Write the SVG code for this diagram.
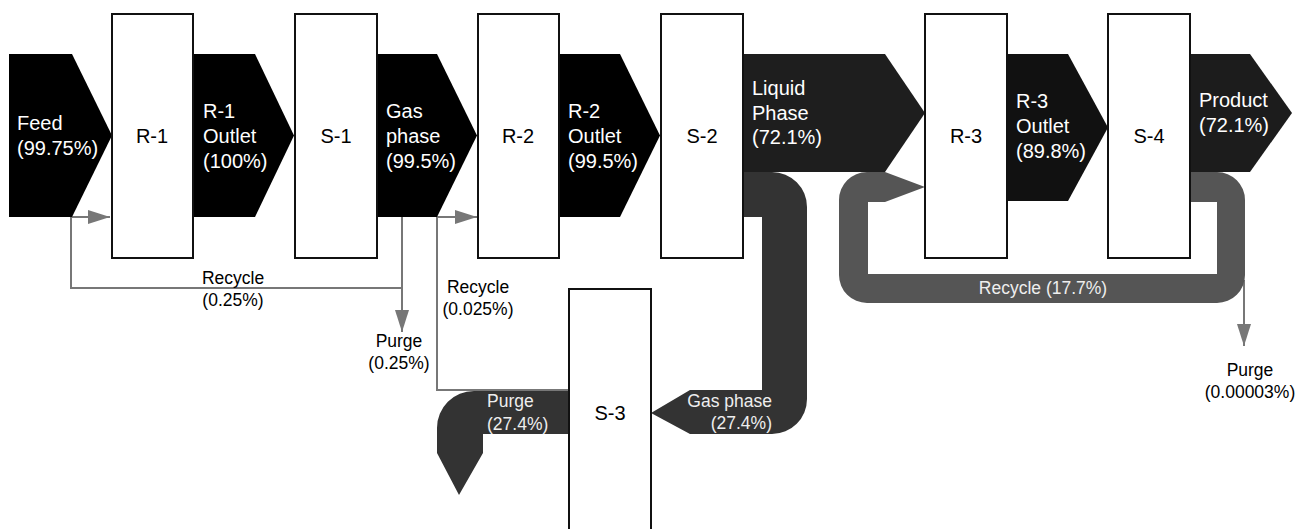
<svg xmlns="http://www.w3.org/2000/svg" width="1296" height="529" viewBox="0 0 1296 529">
<defs>
<style>
.box{fill:#fff;stroke:#111;stroke-width:2}
.lbl{font-family:"Liberation Sans",Arial,sans-serif;font-size:20px;fill:#000}
.wl{font-family:"Liberation Sans",Arial,sans-serif;font-size:20px;fill:#fff}
.sm{font-family:"Liberation Sans",Arial,sans-serif;font-size:17.5px;fill:#000}
.smw{font-family:"Liberation Sans",Arial,sans-serif;font-size:17.5px;fill:#eee}
.thin{fill:none;stroke:#777;stroke-width:2}
</style>
<marker id="ah" markerUnits="userSpaceOnUse" markerWidth="22" markerHeight="14" refX="22" refY="7" orient="auto">
<path d="M0,0 L22,7 L0,14 Z" fill="#777"/>
</marker>
</defs>
<rect width="1296" height="529" fill="#fff"/>
<g id="connectors">
<!-- thin recycle / purge lines -->
<path class="thin" d="M402,217 L402,288 L71,288 L71,217 L110,217" marker-end="url(#ah)"/>
<path class="thin" d="M402,288 L402,332" marker-end="url(#ah)"/>
<path class="thin" d="M569,390 L437,390 L437,217 L477,217" marker-end="url(#ah)"/>
<path class="thin" d="M1244,280 L1244,346" marker-end="url(#ah)"/>
<!-- main streams -->
<polygon points="9,54 72,54 112,135.5 72,217 9,217" fill="#000"/>
<polygon points="193,54 255,54 294,135.5 255,217 193,217" fill="#000"/>
<polygon points="377,54 437,54 477,135.5 437,217 377,217" fill="#000"/>
<polygon points="559,54 620,54 660,135.5 620,217 559,217" fill="#000"/>
<polygon points="743,54 885,54 925,113 885,172 743,172" fill="#1e1e1e"/>
<polygon points="1007,54 1068,54 1108,127.5 1068,201 1007,201" fill="#111"/>
<polygon points="1190,54 1250,54 1292,113 1250,172 1190,172" fill="#1c1c1c"/>
<!-- S-2 gas phase pipe -->
<path d="M743,172 L772,172 A35,35 0 0 1 807,207 L807,399 A35,35 0 0 1 772,434 L690,434 L651,413 L690,390 L762,390 L762,217 L743,217 Z" fill="#333"/>
<!-- S-3 purge pipe -->
<path d="M569,391 L474,391 A37,37 0 0 0 437,428 L437,453 L459,495 L483,453 L483,434 L569,434 Z" fill="#333"/>
<!-- R-3 recycle loop -->
<path d="M1190,172 L1217,172 A28,28 0 0 1 1245,200 L1245,275 A28,28 0 0 1 1217,303 L867,303 A28,28 0 0 1 839,275 L839,200 A28,28 0 0 1 867,172 L885,172 L925,187 L885,202 L868,202 L868,274 L1217,274 L1217,202 L1190,202 Z" fill="#555"/>
</g>
<g id="stream-labels">
<text class="wl" x="17" y="130">Feed</text>
<text class="wl" x="17" y="155">(99.75%)</text>
<text class="wl" x="203" y="118">R-1</text>
<text class="wl" x="203" y="143">Outlet</text>
<text class="wl" x="203" y="168">(100%)</text>
<text class="wl" x="386" y="118">Gas</text>
<text class="wl" x="386" y="143">phase</text>
<text class="wl" x="386" y="168">(99.5%)</text>
<text class="wl" x="568" y="118">R-2</text>
<text class="wl" x="568" y="143">Outlet</text>
<text class="wl" x="568" y="168">(99.5%)</text>
<text class="wl" x="752" y="95">Liquid</text>
<text class="wl" x="752" y="120">Phase</text>
<text class="wl" x="752" y="144">(72.1%)</text>
<text class="wl" x="1016" y="108">R-3</text>
<text class="wl" x="1016" y="133">Outlet</text>
<text class="wl" x="1016" y="158">(89.8%)</text>
<text class="wl" x="1199" y="107">Product</text>
<text class="wl" x="1199" y="132">(72.1%)</text>
<text class="sm" x="233" y="284" text-anchor="middle">Recycle</text>
<text class="sm" x="233" y="306" text-anchor="middle">(0.25%)</text>
<text class="sm" x="399" y="347" text-anchor="middle">Purge</text>
<text class="sm" x="399" y="369" text-anchor="middle">(0.25%)</text>
<text class="sm" x="478" y="293" text-anchor="middle">Recycle</text>
<text class="sm" x="478" y="315" text-anchor="middle">(0.025%)</text>
<text class="smw" x="487" y="407">Purge</text>
<text class="smw" x="487" y="430">(27.4%)</text>
<text class="smw" x="772" y="407" text-anchor="end">Gas phase</text>
<text class="smw" x="772" y="429" text-anchor="end">(27.4%)</text>
<text class="smw" x="1043" y="294" text-anchor="middle">Recycle (17.7%)</text>
<text class="sm" x="1250" y="376" text-anchor="middle">Purge</text>
<text class="sm" x="1250" y="398" text-anchor="middle">(0.00003%)</text>
</g>
<g id="R-1"><rect class="box" x="112" y="14" width="81" height="244"/><text class="lbl" x="152" y="143" text-anchor="middle">R-1</text></g>
<g id="S-1"><rect class="box" x="295" y="14" width="82" height="244"/><text class="lbl" x="336" y="143" text-anchor="middle">S-1</text></g>
<g id="R-2"><rect class="box" x="478" y="14" width="81" height="244"/><text class="lbl" x="518" y="143" text-anchor="middle">R-2</text></g>
<g id="S-2"><rect class="box" x="661" y="14" width="82" height="244"/><text class="lbl" x="702" y="143" text-anchor="middle">S-2</text></g>
<g id="R-3"><rect class="box" x="925" y="14" width="82" height="244"/><text class="lbl" x="966" y="143" text-anchor="middle">R-3</text></g>
<g id="S-4"><rect class="box" x="1108" y="14" width="82" height="244"/><text class="lbl" x="1149" y="143" text-anchor="middle">S-4</text></g>
<g id="S-3"><rect class="box" x="569" y="289" width="82" height="245"/><text class="lbl" x="610" y="420" text-anchor="middle">S-3</text></g>
</svg>
